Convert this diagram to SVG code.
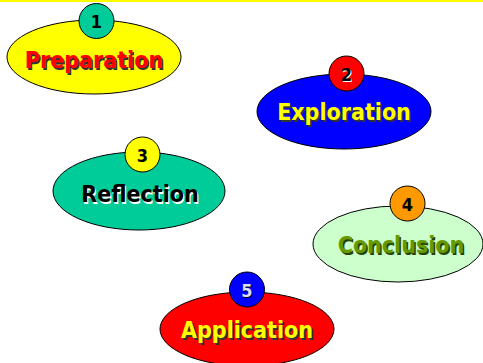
<svg xmlns="http://www.w3.org/2000/svg" width="483" height="363" viewBox="0 0 483 363">
<style>
.el{stroke:#000;stroke-width:1}
.bd{stroke:#000;stroke-width:1}
.lbl{font-family:"DejaVu Sans Condensed","DejaVu Sans",sans-serif;font-weight:bold;font-size:23px;text-anchor:middle}
.sh{fill:#333}
.num{font-family:"DejaVu Sans Condensed","DejaVu Sans",sans-serif;font-weight:bold;font-size:18px;text-anchor:middle}
</style>
<rect x="0" y="0" width="483" height="2" fill="#FFFF00"/>
<g id="connectors"></g>
<g id="n1">
<ellipse class="el" cx="94" cy="57" rx="87" ry="37" fill="#FFFF00"/>
<circle class="bd" cx="96.5" cy="21" r="17.5" fill="#00CC99"/>
<text class="num" x="96.5" y="28" fill="#000">1</text>
<text class="lbl sh" x="95.5" y="69.5">Preparation</text>
<text class="lbl" x="94" y="68" fill="#FF0000">Preparation</text>
</g>
<g id="n2">
<ellipse class="el" cx="344" cy="111.5" rx="87" ry="37.5" fill="#0000FF"/>
<circle class="bd" cx="346.5" cy="73.5" r="17.5" fill="#FF0000"/>
<text class="num" x="347.5" y="81.5" fill="#FFF">2</text>
<text class="num" x="346.5" y="80.5" fill="#000">2</text>
<text class="lbl sh" x="345.5" y="121.5">Exploration</text>
<text class="lbl" x="344" y="120" fill="#FFFF00">Exploration</text>
</g>
<g id="n3">
<ellipse class="el" cx="139" cy="191" rx="86" ry="39" fill="#00CC99"/>
<circle class="bd" cx="142.5" cy="154.5" r="17.5" fill="#FFFF00"/>
<text class="num" x="142.5" y="161.5" fill="#000">3</text>
<text class="lbl" x="141" y="203.5" fill="#FFF">Reflection</text>
<text class="lbl" x="140" y="202" fill="#000">Reflection</text>
</g>
<g id="n4">
<ellipse class="el" cx="398" cy="244" rx="85" ry="38" fill="#CCFFCC"/>
<circle class="bd" cx="407.5" cy="203.5" r="17.5" fill="#FF9900"/>
<text class="num" x="407.5" y="210.5" fill="#000">4</text>
<text class="lbl" x="402.5" y="254.5" fill="#224400">Conclusion</text>
<text class="lbl" x="401" y="253" fill="#669900">Conclusion</text>
</g>
<g id="n5">
<ellipse class="el" cx="247" cy="329" rx="87" ry="37" fill="#FF0000"/>
<circle class="bd" cx="247" cy="289.5" r="17.5" fill="#0000FF"/>
<text class="num" x="248" y="297.5" fill="#000">5</text>
<text class="num" x="247" y="296.5" fill="#DDDDFF">5</text>
<text class="lbl sh" x="248.5" y="339.5">Application</text>
<text class="lbl" x="247" y="338" fill="#FFFF00">Application</text>
</g>
</svg>
